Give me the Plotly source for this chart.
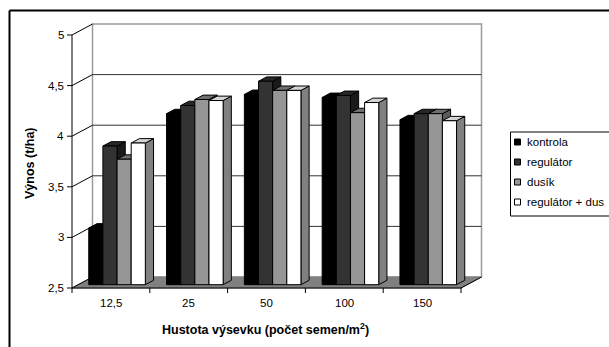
import plotly.graph_objects as go

# ---- data -------------------------------------------------------------
CATEGORIES = ["12,5", "25", "50", "100", "150"]
SERIES = ["kontrola", "regulátor", "dusík", "regulátor + dus"]
KONTROLA = [3.06, 4.19, 4.38, 4.35, 4.13]
REGULATOR = [3.87, 4.27, 4.51, 4.37, 4.19]
DUSIK = [3.74, 4.33, 4.42, 4.20, 4.19]
REGULATOR_DUSIK = [3.90, 4.32, 4.42, 4.30, 4.12]
Y_TICKS = [2.5, 3.0, 3.5, 4.0, 4.5, 5.0]

VALUES = [KONTROLA, REGULATOR, DUSIK, REGULATOR_DUSIK]

# ---- styling ----------------------------------------------------------
FRONT_COLORS = ["#000000", "#333333", "#969696", "#ffffff"]
TOP_COLORS = ["#000000", "#262626", "#6e6e6e", "#d4d4d4"]
SIDE_COLORS = ["#000000", "#1a1a1a", "#5a5a5a", "#808080"]
FONT = "Arial, Liberation Sans, sans-serif"

W, H = 609, 347
PX_CAT = 77.8          # pixels per category slot
PX_VAL = 101.2         # pixels per t/ha
ORIGIN = (72, 288)     # pixel position of the front-left floor corner
Y_MIN, Y_MAX = 2.5, 5.0
DEPTH_X = 20.5 / PX_CAT   # oblique depth offset, category units
DEPTH_Y = 11.0 / PX_VAL   # oblique depth offset, value units
FRONT, BACK = 0.3, 0.7    # bar front/back planes as fractions of depth
BAR_W = 1 / 5.5           # four bars + gap of 1.5 bar widths
N = len(CATEGORIES)


def px(x):
    return x / W


def py(y):
    return 1 - y / H


fig = go.Figure()
shapes = []
annotations = []

line_blk = dict(color="black", width=1)

# back wall
shapes.append(dict(type="rect", xref="x", yref="y", layer="below",
                   x0=DEPTH_X, x1=N + DEPTH_X,
                   y0=Y_MIN + DEPTH_Y, y1=Y_MAX + DEPTH_Y,
                   fillcolor="white", line=dict(color="#9a9a9a", width=1.5)))
# floor
shapes.append(dict(type="path", xref="x", yref="y", layer="below",
                   path=f"M0,{Y_MIN} L{N},{Y_MIN} L{N + DEPTH_X},{Y_MIN + DEPTH_Y} "
                        f"L{DEPTH_X},{Y_MIN + DEPTH_Y} Z",
                   fillcolor="#808080", line=dict(color="#808080", width=1)))
# gridlines on the back wall and the side wall
for t in Y_TICKS:
    if Y_MIN < t < Y_MAX:
        shapes.append(dict(type="line", xref="x", yref="y", layer="below",
                           x0=DEPTH_X, x1=N + DEPTH_X, y0=t + DEPTH_Y, y1=t + DEPTH_Y,
                           line=dict(color="#333333", width=1)))
    shapes.append(dict(type="line", xref="x", yref="y", layer="below",
                       x0=0, x1=DEPTH_X, y0=t, y1=t + DEPTH_Y, line=line_blk))
    # y tick
    shapes.append(dict(type="line", xref="x", yref="y", layer="below",
                       x0=-5 / PX_CAT, x1=0, y0=t, y1=t, line=line_blk))
    annotations.append(dict(x=0, y=t, xref="x", yref="y", showarrow=False,
                            text=f"{t:g}".replace(".", ","),
                            xanchor="right", yanchor="middle", xshift=-6,
                            font=dict(family=FONT, size=11.5, color="black")))

# axis lines
shapes.append(dict(type="line", xref="x", yref="y", layer="below",
                   x0=0, x1=0, y0=Y_MIN, y1=Y_MAX, line=line_blk))
shapes.append(dict(type="line", xref="x", yref="y", layer="below",
                   x0=0, x1=N, y0=Y_MIN, y1=Y_MIN, line=line_blk))
shapes.append(dict(type="line", xref="x", yref="y", layer="below",
                   x0=N, x1=N + DEPTH_X, y0=Y_MIN, y1=Y_MIN + DEPTH_Y, line=line_blk))
for i in range(N + 1):
    shapes.append(dict(type="line", xref="x", yref="y", layer="below",
                       x0=i, x1=i, y0=Y_MIN, y1=Y_MIN - 5 / PX_VAL, line=line_blk))
for i, c in enumerate(CATEGORIES):
    annotations.append(dict(x=i + 0.5, y=Y_MIN, xref="x", yref="y", showarrow=False,
                            text=c, xanchor="center", yanchor="middle", yshift=-15,
                            font=dict(family=FONT, size=11.5, color="black")))

# bars: front faces as bar traces, tops and right sides as shapes
base = Y_MIN + FRONT * DEPTH_Y
ddx = (BACK - FRONT) * DEPTH_X
ddy = (BACK - FRONT) * DEPTH_Y
for j, (name, vals) in enumerate(zip(SERIES, VALUES)):
    xs = [i + 0.5 + FRONT * DEPTH_X + (j - 1.5) * BAR_W for i in range(N)]
    fig.add_trace(go.Bar(
        x=xs, y=[v - Y_MIN for v in vals], base=base, width=BAR_W, name=name,
        marker=dict(color=FRONT_COLORS[j], line=dict(color="black", width=1)),
        showlegend=False, hovertemplate=name + ": %{customdata}<extra></extra>",
        customdata=vals,
    ))
    for xc, v in zip(xs, vals):
        x0, x1 = xc - BAR_W / 2, xc + BAR_W / 2
        yt = v + FRONT * DEPTH_Y
        shapes.append(dict(type="path", xref="x", yref="y", layer="below",
                           path=f"M{x1},{base} L{x1 + ddx},{base + ddy} "
                                f"L{x1 + ddx},{yt + ddy} L{x1},{yt} Z",
                           fillcolor=SIDE_COLORS[j], line=line_blk))
        shapes.append(dict(type="path", xref="x", yref="y", layer="below",
                           path=f"M{x0},{yt} L{x1},{yt} L{x1 + ddx},{yt + ddy} "
                                f"L{x0 + ddx},{yt + ddy} Z",
                           fillcolor=TOP_COLORS[j], line=line_blk))

# axis titles
annotations.append(dict(x=px(30), y=py(163), xref="paper", yref="paper", showarrow=False,
                        text="<b>Výnos (t/ha)</b>", textangle=-90,
                        xanchor="center", yanchor="middle",
                        font=dict(family=FONT, size=12.5, color="black")))
annotations.append(dict(x=px(265), y=py(329), xref="paper", yref="paper", showarrow=False,
                        text="<b>Hustota výsevku (počet semen/m<sup>2</sup>)</b>",
                        xanchor="center", yanchor="middle",
                        font=dict(family=FONT, size=12.5, color="black")))

# legend
shapes.append(dict(type="rect", xref="paper", yref="paper", layer="above",
                   x0=px(510.5), x1=px(W + 20), y0=py(216), y1=py(132),
                   fillcolor="white", line=line_blk))
for j, name in enumerate(SERIES):
    yc = 142 + 20 * j
    shapes.append(dict(type="rect", xref="paper", yref="paper", layer="above",
                       x0=px(514.5), x1=px(520.5), y0=py(yc + 3), y1=py(yc - 3),
                       fillcolor=FRONT_COLORS[j], line=line_blk))
    annotations.append(dict(x=px(525), y=py(yc), xref="paper", yref="paper",
                            showarrow=False, text=name, xanchor="left", yanchor="middle",
                            font=dict(family=FONT, size=11.5, color="black")))

# chart frame (left and top edges)
shapes.append(dict(type="line", xref="paper", yref="paper", layer="above",
                   x0=px(9.5), x1=px(9.5), y0=py(10.5), y1=-0.05,
                   line=dict(color="black", width=2)))
shapes.append(dict(type="line", xref="paper", yref="paper", layer="above",
                   x0=px(9.5), x1=1.05, y0=py(10.5), y1=py(10.5),
                   line=dict(color="black", width=2)))

fig.update_layout(
    width=W, height=H, autosize=False,
    margin=dict(l=0, r=0, t=0, b=0),
    paper_bgcolor="white", plot_bgcolor="white",
    barmode="overlay", showlegend=False,
    xaxis=dict(range=[-ORIGIN[0] / PX_CAT, (W - ORIGIN[0]) / PX_CAT],
               visible=False, fixedrange=True),
    yaxis=dict(range=[Y_MIN - (H - ORIGIN[1]) / PX_VAL, Y_MIN + ORIGIN[1] / PX_VAL],
               visible=False, fixedrange=True),
    shapes=shapes, annotations=annotations,
)

fig.write_html("out.html")
